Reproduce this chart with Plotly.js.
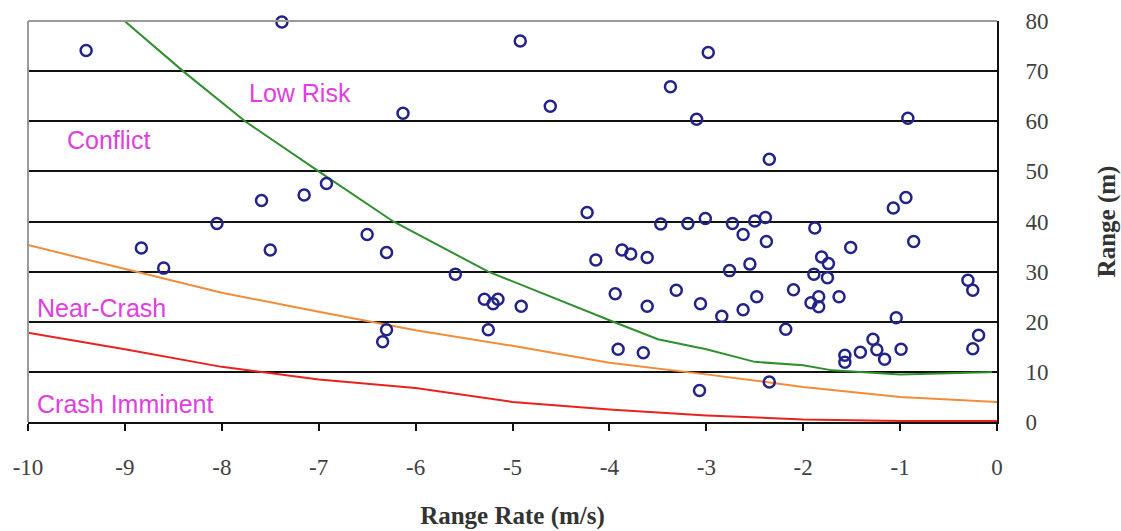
<!DOCTYPE html>
<html>
<head>
<meta charset="utf-8">
<script src="https://cdn.plot.ly/plotly-3.0.1.min.js"></script>
<style>html,body{margin:0;padding:0;background:#fff;}#chart{width:1121px;height:531px;}</style>
</head>
<body>
<div id="chart"></div>
<script>
// Observed events: range rate (m/s) and range (m)
const eventRangeRate = [-9.40,-7.38,-6.92,-7.15,-7.59,-8.05,-4.92,-2.98,-3.37,-4.61,-6.13,-3.10,-4.23,-0.92,-2.35,-0.94,-1.07,-6.50,-8.83,-7.50,-8.60,-6.30,-6.34,-6.30,-5.59,-5.29,-5.20,-5.15,-4.91,-5.25,-4.14,-3.87,-3.78,-3.61,-3.94,-3.61,-3.91,-3.65,-3.31,-3.06,-2.84,-3.07,-3.47,-3.19,-3.01,-2.73,-2.76,-2.62,-2.50,-2.39,-2.38,-1.88,-0.86,-1.51,-1.81,-1.74,-1.89,-1.75,-2.55,-2.10,-2.48,-2.62,-1.92,-1.84,-1.84,-1.63,-2.18,-1.04,-0.30,-0.25,-0.19,-0.25,-1.28,-1.24,-1.41,-1.57,-1.57,-1.16,-0.99,-2.35];
const eventRange     = [74.1,79.8,47.6,45.3,44.2,39.6,76.0,73.7,66.9,63.0,61.6,60.4,41.8,60.6,52.4,44.8,42.7,37.4,34.7,34.3,30.7,33.8,16.0,18.4,29.5,24.5,23.6,24.5,23.1,18.4,32.3,34.3,33.5,32.8,25.6,23.1,14.5,13.8,26.3,23.6,21.1,6.3,39.5,39.6,40.6,39.6,30.2,37.4,40.1,40.8,36.0,38.7,36.0,34.8,32.9,31.6,29.5,28.8,31.5,26.4,25.0,22.4,23.8,25.0,23.0,25.0,18.5,20.8,28.3,26.3,17.3,14.6,16.5,14.4,13.9,13.3,11.9,12.5,14.5,8.0];

// Boundary curves
const lowRiskX  = [-9.1,-8.4,-7.76,-7.43,-7.0,-6.23,-5.25,-3.96,-3.5,-3.0,-2.5,-2.0,-1.7,-1.0,0];
const lowRiskY  = [81.6,70,60,55.6,50,40,30,20,16.5,14.5,12,11.3,10.3,9.5,10];
const nearCrashX = [-10,-9,-8,-7,-6,-5,-4,-3,-2,-1,0];
const nearCrashY = [35.3,30.5,25.8,22,18.3,15.2,11.8,9.5,7.0,5.0,4.0];
const crashX = [-10,-9,-8,-7,-6,-5,-4,-3,-2,-1,0];
const crashY = [17.8,14.5,11,8.5,6.8,4.0,2.5,1.3,0.5,0.2,0.2];

// Axis ticks
const xTicks = [-10,-9,-8,-7,-6,-5,-4,-3,-2,-1,0];
const yTicks = [0,10,20,30,40,50,60,70,80];

// Region labels
const regionLabels = ["Low Risk","Conflict","Near-Crash","Crash Imminent"];
const regionLabelX = [-7.74,-9.62,-9.93,-9.93];
const regionLabelY = [65.6,56.2,22.7,3.5];

const traces = [
  {x: crashX, y: crashY, mode: 'lines', line: {color: '#e8231f', width: 2}, hoverinfo: 'skip'},
  {x: nearCrashX, y: nearCrashY, mode: 'lines', line: {color: '#f28c3a', width: 2}, hoverinfo: 'skip'},
  {x: lowRiskX, y: lowRiskY, mode: 'lines', line: {color: '#2f8f2f', width: 2}, hoverinfo: 'skip'},
  {x: eventRangeRate, y: eventRange, mode: 'markers', cliponaxis: false,
   marker: {symbol: 'circle-open', size: 11, color: '#22238a', line: {width: 2.5, color: '#22238a'}}}
];

const annotations = regionLabels.map((t, i) => ({
  x: regionLabelX[i], y: regionLabelY[i], xref: 'x', yref: 'y', text: t,
  showarrow: false, xanchor: 'left', yanchor: 'middle',
  font: {family: '"Liberation Sans", Arial, sans-serif', size: 25, color: '#e03ee0'}
}));

const layout = {
  width: 1121, height: 531,
  margin: {l: 28, r: 124, t: 21, b: 109},
  paper_bgcolor: '#ffffff', plot_bgcolor: '#ffffff',
  showlegend: false,
  font: {family: '"Liberation Serif", "Times New Roman", serif', color: '#404040'},
  xaxis: {
    range: [-10, 0], tickvals: xTicks, ticktext: xTicks.map(String),
    showgrid: false, zeroline: false,
    showline: true, linecolor: '#111', linewidth: 2,
    ticks: 'outside', ticklen: 7, tickwidth: 2, tickcolor: '#111',
    ticklabelstandoff: 16,
    tickfont: {size: 23, color: '#404040'},
    title: {text: 'Range Rate (m/s)', standoff: 28,
            font: {size: 25, color: '#333', family: '"Liberation Serif", "Times New Roman", serif', weight: 'bold'}}
  },
  yaxis: {
    range: [0, 80], side: 'right', tickvals: yTicks, ticktext: yTicks.map(String),
    showgrid: true, gridcolor: '#111', gridwidth: 2, zeroline: false,
    showline: true, linecolor: '#111', linewidth: 2,
    ticks: 'inside', ticklen: 5, tickwidth: 2, tickcolor: '#111',
    ticklabelstandoff: 22,
    tickfont: {size: 23, color: '#404040'},
    title: {text: 'Range (m)', standoff: 50,
            font: {size: 25, color: '#333', family: '"Liberation Serif", "Times New Roman", serif', weight: 'bold'}}
  },
  shapes: [
    {type: 'line', xref: 'paper', yref: 'paper', x0: 0, x1: 1, y0: 1, y1: 1, line: {color: '#9a9a9a', width: 2}},
    {type: 'line', xref: 'paper', yref: 'paper', x0: 0, x1: 0, y0: 0, y1: 1, line: {color: '#9a9a9a', width: 2}}
  ],
  annotations: annotations
};

Plotly.newPlot('chart', traces, layout, {displayModeBar: false, staticPlot: true});
</script>
</body>
</html>
